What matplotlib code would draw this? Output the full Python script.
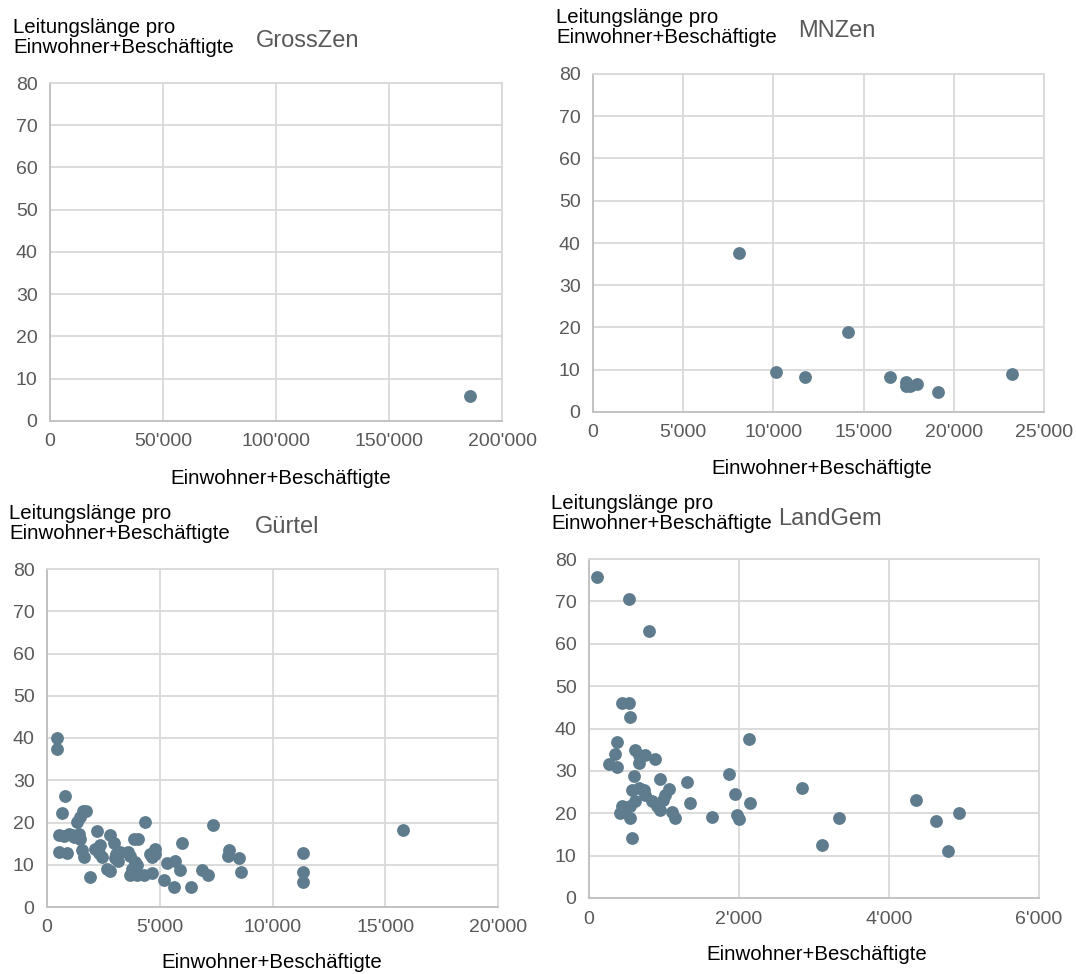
import matplotlib
matplotlib.use("Agg")
import matplotlib.pyplot as plt
from matplotlib.ticker import FuncFormatter, MultipleLocator

plt.rcParams['font.family'] = ['Liberation Sans', 'DejaVu Sans']

# GrossZen
gross_x = [185800]
gross_y = [5.9]

# MNZen
mnzen_x = [8110, 10170, 11740, 14130, 16460, 17330, 17330, 17570, 17940, 19150, 23240]
mnzen_y = [37.6, 9.5, 8.3, 19.0, 8.3, 7.1, 6.1, 6.1, 6.7, 4.7, 9.1]

# Gürtel
guertel_x = [443, 443, 811, 665, 1596, 1742, 1476, 1330, 4357, 7341, 15780,
             517, 737, 1108, 1401, 1476, 2216, 2806, 2983, 3870, 4017, 5984,
             517, 887, 1551, 1625, 2141, 2333, 2438, 3072, 3249, 3574, 3028,
             3130, 3692, 3914, 3989, 2660, 2806, 1919, 4579, 4800, 4654, 3692,
             3989, 4283, 4654, 5319, 5687, 5880, 5170, 5613, 6383, 6870, 7119,
             8081, 8006, 8524, 8599, 11348, 11348, 11348, 3766, 960, 4800,
             1200, 2300]
guertel_y = [40.1, 37.5, 26.2, 22.2, 22.7, 22.7, 21.3, 20.1, 20.1, 19.5, 18.2,
             17.0, 16.7, 17.0, 17.2, 16.0, 17.9, 17.1, 15.2, 16.0, 16.0, 15.2,
             13.0, 12.8, 13.6, 11.8, 13.8, 14.6, 11.8, 12.6, 13.0, 13.0, 11.5,
             10.9, 12.0, 10.7, 9.9, 9.1, 8.5, 7.1, 12.6, 13.8, 11.8, 7.5,
             7.5, 7.5, 8.0, 10.4, 10.9, 8.8, 6.3, 4.7, 4.7, 8.8, 7.5,
             13.6, 12.0, 11.5, 8.4, 12.8, 8.4, 5.9, 9.1, 17.2, 12.6,
             16.5, 12.8]

# LandGem
land_x = [107, 537, 794, 439, 537, 550, 2139, 373, 350, 261, 373,
          617, 661, 750, 883, 661, 594, 949, 1305, 1349, 1638, 1868,
          572, 661, 727, 750, 1073, 1016, 993, 839, 905, 949,
          617, 550, 439, 417, 550, 483, 1105, 1149, 572,
          2836, 1952, 2148, 1971, 2001, 3111, 3333, 4358, 4625, 4935, 4789]
land_y = [75.7, 70.6, 63.1, 46.1, 46.1, 42.6, 37.5, 36.7, 34.0, 31.7, 31.0,
          35.0, 33.8, 33.8, 32.8, 31.8, 28.9, 28.1, 27.3, 22.5, 19.1, 29.2,
          25.5, 25.9, 25.5, 24.4, 25.7, 24.4, 23.2, 22.8, 21.6, 20.8,
          22.8, 21.6, 21.8, 20.0, 18.9, 20.8, 20.2, 18.9, 14.2,
          25.9, 24.5, 22.5, 19.6, 18.6, 12.6, 18.9, 23.2, 18.1, 20.0, 11.0]

W, H = 1076, 974
DOT = '#5E7C8D'
GRID = '#D9D9D9'
GREY = '#595959'

fig = plt.figure(figsize=(W / 100, H / 100), dpi=100)


def fmt(v, pos):
    return f"{int(round(v)):,}".replace(",", "'")


def panel(box, xs, ys, xmax, xstep, title, title_xy, ylab_xy, xlab_xy):
    left, top, right, bottom = box
    ax = fig.add_axes([left / W, 1 - bottom / H, (right - left) / W, (bottom - top) / H])
    ax.scatter(xs, ys, s=85, color=DOT, zorder=3, linewidths=0)
    ax.set_xlim(0, xmax)
    ax.set_ylim(0, 80)
    ax.xaxis.set_major_locator(MultipleLocator(xstep))
    ax.yaxis.set_major_locator(MultipleLocator(10))
    ax.xaxis.set_major_formatter(FuncFormatter(fmt))
    ax.grid(True, color=GRID, linewidth=1.3, zorder=0)
    ax.set_axisbelow(True)
    for s in ax.spines.values():
        s.set_color(GRID)
        s.set_linewidth(1.3)
    ax.spines['left'].set_color('#BFBFBF')
    ax.spines['bottom'].set_color('#BFBFBF')
    ax.tick_params(length=0, labelsize=14, labelcolor=GREY, pad=9)
    fig.text(title_xy[0] / W, 1 - title_xy[1] / H, title, fontsize=17,
             color=GREY, ha='center', va='center')
    fig.text(ylab_xy[0] / W, 1 - ylab_xy[1] / H,
             'Leitungslänge pro\nEinwohner+Beschäftigte', fontsize=14.7,
             color='black', ha='left', va='top', linespacing=1.08)
    fig.text(xlab_xy[0] / W, 1 - xlab_xy[1] / H, 'Einwohner+Beschäftigte',
             fontsize=14.7, color='black', ha='center', va='center')
    return ax


panel((50, 83, 502, 421), gross_x, gross_y, 200000, 50000, 'GrossZen',
      (308, 41), (13, 18), (281, 478))
panel((593, 74, 1044, 412), mnzen_x, mnzen_y, 25000, 5000, 'MNZen',
      (837, 31), (556, 8), (822, 469))
panel((47, 569, 498, 907), guertel_x, guertel_y, 20000, 5000, 'Gürtel',
      (287, 527), (9, 504), (272, 963))
panel((589, 559, 1039, 898), land_x, land_y, 6000, 2000, 'LandGem',
      (830, 519), (551, 494), (817, 954))

fig.savefig('out.png', dpi=100)
